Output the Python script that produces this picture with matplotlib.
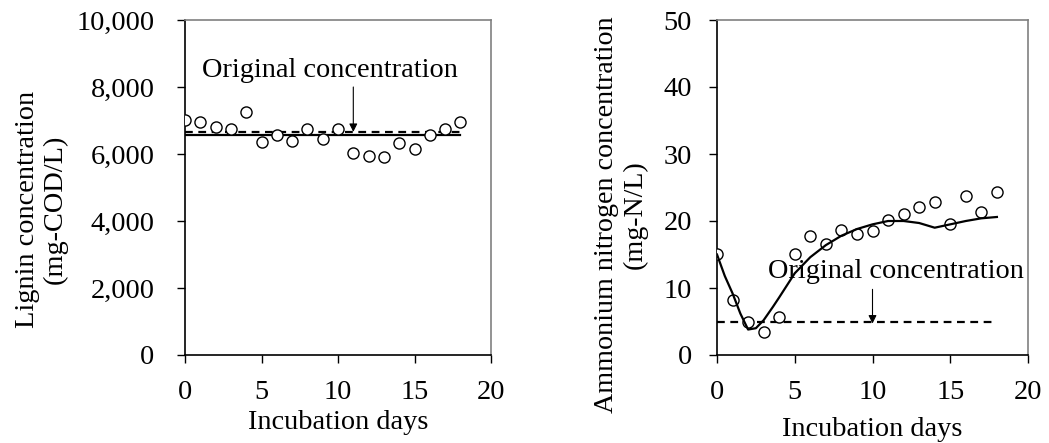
import numpy as np
import matplotlib
matplotlib.use("Agg")
import matplotlib.pyplot as plt
from matplotlib.ticker import StrMethodFormatter

plt.rcParams["font.family"] = ["Liberation Serif", "DejaVu Serif"]
plt.rcParams["font.size"] = 20.4

# 数据
days = list(range(19))
lignin = [7015, 6965, 6816, 6737, 7244, 6348, 6557, 6398, 6746, 6458,
          6746, 6020, 5950, 5910, 6338, 6140, 6557, 6737, 6965]
lignin_fit = 6567
lignin_orig = 6660

ammonium = [15.1, 8.2, 5.0, 3.4, 5.7, 15.1, 17.8, 16.5, 18.6, 18.0,
            18.5, 20.1, 21.0, 22.1, 22.8, 19.6, 23.8, 21.3, 24.3]
fit_days = [0, 0.5, 1, 1.5, 2, 2.5, 3, 3.6, 4, 5, 6, 7, 8, 9, 10, 11,
            12, 13, 14, 15, 16, 17, 18]
fit_vals = [15.0, 11.8, 9.2, 6.2, 3.8, 4.0, 5.2, 7.2, 8.6, 12.2, 14.6, 16.4,
            17.8, 18.8, 19.5, 20.0, 20.0, 19.7, 19.0, 19.5, 20.0, 20.4, 20.6]
ammonium_orig = 5.0

fig = plt.figure(figsize=(10.49, 4.43), dpi=100)
ax1 = fig.add_axes([185/1049, 1-355/443, 306/1049, 335/443])
ax2 = fig.add_axes([717/1049, 1-355/443, 311/1049, 335/443])


def style(ax):
    for s in ["top", "right"]:
        ax.spines[s].set_color("#808080")
        ax.spines[s].set_linewidth(1.2)
    for s in ["left", "bottom"]:
        ax.spines[s].set_color("black")
        ax.spines[s].set_linewidth(1.2)
    ax.tick_params(direction="out", length=6, width=1, top=False, right=False)
    ax.set_xlim(0, 20)
    ax.set_xticks([0, 5, 10, 15, 20])


# 左图
style(ax1)
ax1.plot(days, lignin, "o", mfc="white", mec="black", ms=8, mew=1, zorder=3)
ax1.plot([0, 18], [lignin_fit, lignin_fit], color="black", lw=1.6)
ax1.plot([0, 18], [lignin_orig, lignin_orig], color="black", lw=1.6,
         dashes=(3.5, 2.5))
ax1.set_ylim(0, 10000)
ax1.set_yticks(range(0, 10001, 2000))
ax1.yaxis.set_major_formatter(StrMethodFormatter("{x:,.0f}"))
ax1.tick_params(axis="y", pad=16)
ax1.tick_params(axis="x", pad=12)
ax1.annotate("", xy=(11, lignin_orig), xytext=(11, 8000),
             arrowprops=dict(arrowstyle="-|>", color="black", lw=0.8,
                             mutation_scale=12, shrinkA=0, shrinkB=0))
ax1.text(9.5, 8500, "Original concentration", ha="center", va="center")
ax1.set_ylabel("Lignin concentration\n(mg-COD/L)", linespacing=1.15)
ax1.yaxis.set_label_coords(-(185-68)/306, 1-(209-20)/335)
ax1.set_xlabel("Incubation days")
ax1.xaxis.set_label_coords(0.5, -(410-355)/335)

# 右图
style(ax2)
ax2.plot([0, 18], [ammonium_orig, ammonium_orig], color="black", lw=1.6,
         dashes=(3.5, 2.5))
ax2.plot(days, ammonium, "o", mfc="white", mec="black", ms=8, mew=1, zorder=3)
ax2.text(11.5, 12.4, "Original concentration", ha="center", va="center")
ax2.plot(fit_days, fit_vals, color="black", lw=1.6, zorder=4)
ax2.annotate("", xy=(10, 4.7), xytext=(10, 9.8),
             arrowprops=dict(arrowstyle="-|>", color="black", lw=0.8,
                             mutation_scale=12, shrinkA=0, shrinkB=0))
ax2.set_ylim(0, 50)
ax2.set_yticks(range(0, 51, 10))
ax2.tick_params(axis="y", pad=12)
ax2.tick_params(axis="x", pad=12)
ax2.set_ylabel("Ammonium nitrogen concentration\n(mg-N/L)", linespacing=1.2,
               fontsize=20.2)
ax2.yaxis.set_label_coords(-(717-648)/311, 1-(215-20)/335)
ax2.set_xlabel("Incubation days")
ax2.xaxis.set_label_coords(0.5, -(417-355)/335)

fig.savefig("out.png", dpi=100)
